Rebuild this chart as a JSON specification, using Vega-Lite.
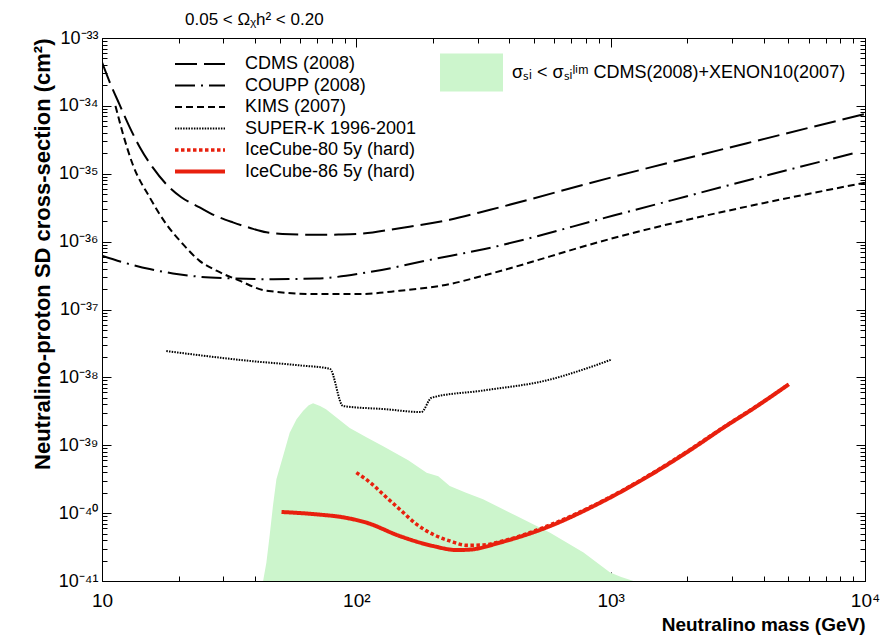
{
  "$schema": "https://vega.github.io/schema/vega-lite/v6.json",
  "width": 763,
  "height": 543,
  "autosize": {"type": "none"},
  "padding": {"left": 102, "top": 38, "right": 29, "bottom": 57},
  "background": "white",
  "config": {
    "font": "Liberation Sans",
    "view": {"stroke": "black", "strokeWidth": 1},
    "axis": {"grid": false, "domainColor": "black", "tickColor": "black", "labelColor": "black", "titleColor": "black", "labelFont": "Liberation Sans", "titleFont": "Liberation Sans"},
    "legend": {"labelFont": "Liberation Sans", "labelColor": "black"}
  },
  "title": {"text": "0.05 < Ωᵪh² < 0.20", "anchor": "start", "frame": "group", "dx": 83, "fontSize": 17, "fontWeight": "normal", "font": "Liberation Sans", "color": "black", "offset": 0},
  "datasets": {
    "allowed": [
      {"m": 43, "s": 1e-41, "band": "σₛᵢ < σₛᵢˡⁱᵐ CDMS(2008)+XENON10(2007)"},
      {"m": 44.3, "s": 1.87e-41, "band": "σₛᵢ < σₛᵢˡⁱᵐ CDMS(2008)+XENON10(2007)"},
      {"m": 45.6, "s": 4.6e-41, "band": "σₛᵢ < σₛᵢˡⁱᵐ CDMS(2008)+XENON10(2007)"},
      {"m": 47, "s": 1.27e-40, "band": "σₛᵢ < σₛᵢˡⁱᵐ CDMS(2008)+XENON10(2007)"},
      {"m": 48.5, "s": 3.15e-40, "band": "σₛᵢ < σₛᵢˡⁱᵐ CDMS(2008)+XENON10(2007)"},
      {"m": 51.5, "s": 6.9e-40, "band": "σₛᵢ < σₛᵢˡⁱᵐ CDMS(2008)+XENON10(2007)"},
      {"m": 54.7, "s": 1.53e-39, "band": "σₛᵢ < σₛᵢˡⁱᵐ CDMS(2008)+XENON10(2007)"},
      {"m": 58.2, "s": 2.41e-39, "band": "σₛᵢ < σₛᵢˡⁱᵐ CDMS(2008)+XENON10(2007)"},
      {"m": 61.7, "s": 3.19e-39, "band": "σₛᵢ < σₛᵢˡⁱᵐ CDMS(2008)+XENON10(2007)"},
      {"m": 65, "s": 3.9e-39, "band": "σₛᵢ < σₛᵢˡⁱᵐ CDMS(2008)+XENON10(2007)"},
      {"m": 67.6, "s": 4.14e-39, "band": "σₛᵢ < σₛᵢˡⁱᵐ CDMS(2008)+XENON10(2007)"},
      {"m": 72, "s": 3.8e-39, "band": "σₛᵢ < σₛᵢˡⁱᵐ CDMS(2008)+XENON10(2007)"},
      {"m": 76, "s": 3.4e-39, "band": "σₛᵢ < σₛᵢˡⁱᵐ CDMS(2008)+XENON10(2007)"},
      {"m": 94.2, "s": 1.8e-39, "band": "σₛᵢ < σₛᵢˡⁱᵐ CDMS(2008)+XENON10(2007)"},
      {"m": 110, "s": 1.3e-39, "band": "σₛᵢ < σₛᵢˡⁱᵐ CDMS(2008)+XENON10(2007)"},
      {"m": 127.5, "s": 9.7e-40, "band": "σₛᵢ < σₛᵢˡⁱᵐ CDMS(2008)+XENON10(2007)"},
      {"m": 160, "s": 6.0e-40, "band": "σₛᵢ < σₛᵢˡⁱᵐ CDMS(2008)+XENON10(2007)"},
      {"m": 189, "s": 3.95e-40, "band": "σₛᵢ < σₛᵢˡⁱᵐ CDMS(2008)+XENON10(2007)"},
      {"m": 210, "s": 3.5e-40, "band": "σₛᵢ < σₛᵢˡⁱᵐ CDMS(2008)+XENON10(2007)"},
      {"m": 233, "s": 2.5e-40, "band": "σₛᵢ < σₛᵢˡⁱᵐ CDMS(2008)+XENON10(2007)"},
      {"m": 270, "s": 2.0e-40, "band": "σₛᵢ < σₛᵢˡⁱᵐ CDMS(2008)+XENON10(2007)"},
      {"m": 315, "s": 1.6e-40, "band": "σₛᵢ < σₛᵢˡⁱᵐ CDMS(2008)+XENON10(2007)"},
      {"m": 427, "s": 9.06e-41, "band": "σₛᵢ < σₛᵢˡⁱᵐ CDMS(2008)+XENON10(2007)"},
      {"m": 578, "s": 5.16e-41, "band": "σₛᵢ < σₛᵢˡⁱᵐ CDMS(2008)+XENON10(2007)"},
      {"m": 782, "s": 2.63e-41, "band": "σₛᵢ < σₛᵢˡⁱᵐ CDMS(2008)+XENON10(2007)"},
      {"m": 995, "s": 1.33e-41, "band": "σₛᵢ < σₛᵢˡⁱᵐ CDMS(2008)+XENON10(2007)"},
      {"m": 1100, "s": 1.15e-41, "band": "σₛᵢ < σₛᵢˡⁱᵐ CDMS(2008)+XENON10(2007)"},
      {"m": 1230, "s": 1e-41, "band": "σₛᵢ < σₛᵢˡⁱᵐ CDMS(2008)+XENON10(2007)"}
    ],
    "curves": [
      {"n": "CDMS (2008)", "m": 10, "s": 4.4e-34},
      {"n": "CDMS (2008)", "m": 10.8, "s": 2.1e-34},
      {"n": "CDMS (2008)", "m": 11.7, "s": 1.06e-34},
      {"n": "CDMS (2008)", "m": 12.8, "s": 5.0e-35},
      {"n": "CDMS (2008)", "m": 14.1, "s": 2.44e-35},
      {"n": "CDMS (2008)", "m": 15.8, "s": 1.25e-35},
      {"n": "CDMS (2008)", "m": 17.9, "s": 7.0e-36},
      {"n": "CDMS (2008)", "m": 20.5, "s": 4.5e-36},
      {"n": "CDMS (2008)", "m": 24.2, "s": 3.2e-36},
      {"n": "CDMS (2008)", "m": 28, "s": 2.4e-36},
      {"n": "CDMS (2008)", "m": 32.7, "s": 1.92e-36},
      {"n": "CDMS (2008)", "m": 38, "s": 1.6e-36},
      {"n": "CDMS (2008)", "m": 44.3, "s": 1.37e-36},
      {"n": "CDMS (2008)", "m": 55, "s": 1.28e-36},
      {"n": "CDMS (2008)", "m": 69.7, "s": 1.26e-36},
      {"n": "CDMS (2008)", "m": 85, "s": 1.27e-36},
      {"n": "CDMS (2008)", "m": 103, "s": 1.3e-36},
      {"n": "CDMS (2008)", "m": 148, "s": 1.58e-36},
      {"n": "CDMS (2008)", "m": 233, "s": 2.1e-36},
      {"n": "CDMS (2008)", "m": 336, "s": 2.95e-36},
      {"n": "CDMS (2008)", "m": 1026, "s": 9.0e-36},
      {"n": "CDMS (2008)", "m": 3436, "s": 2.82e-35},
      {"n": "CDMS (2008)", "m": 10000, "s": 7.6e-35},
      {"n": "COUPP (2008)", "m": 10, "s": 6.2e-37},
      {"n": "COUPP (2008)", "m": 12, "s": 5.0e-37},
      {"n": "COUPP (2008)", "m": 15.4, "s": 3.94e-37},
      {"n": "COUPP (2008)", "m": 19, "s": 3.4e-37},
      {"n": "COUPP (2008)", "m": 24.2, "s": 3.04e-37},
      {"n": "COUPP (2008)", "m": 32, "s": 2.88e-37},
      {"n": "COUPP (2008)", "m": 44.3, "s": 2.8e-37},
      {"n": "COUPP (2008)", "m": 69.7, "s": 2.86e-37},
      {"n": "COUPP (2008)", "m": 109.6, "s": 3.5e-37},
      {"n": "COUPP (2008)", "m": 200, "s": 5.5e-37},
      {"n": "COUPP (2008)", "m": 320, "s": 7.8e-37},
      {"n": "COUPP (2008)", "m": 1026, "s": 2.42e-36},
      {"n": "COUPP (2008)", "m": 3436, "s": 7.96e-36},
      {"n": "COUPP (2008)", "m": 9000, "s": 2.0e-35},
      {"n": "KIMS (2007)", "m": 11.3, "s": 1.0e-34},
      {"n": "KIMS (2007)", "m": 12.1, "s": 3.83e-35},
      {"n": "KIMS (2007)", "m": 13.2, "s": 1.38e-35},
      {"n": "KIMS (2007)", "m": 15.4, "s": 4.48e-36},
      {"n": "KIMS (2007)", "m": 17.9, "s": 1.81e-36},
      {"n": "KIMS (2007)", "m": 20.8, "s": 9.2e-37},
      {"n": "KIMS (2007)", "m": 24.2, "s": 5.2e-37},
      {"n": "KIMS (2007)", "m": 28.2, "s": 3.73e-37},
      {"n": "KIMS (2007)", "m": 34.7, "s": 2.66e-37},
      {"n": "KIMS (2007)", "m": 44.3, "s": 1.89e-37},
      {"n": "KIMS (2007)", "m": 69.7, "s": 1.69e-37},
      {"n": "KIMS (2007)", "m": 103, "s": 1.69e-37},
      {"n": "KIMS (2007)", "m": 148, "s": 1.89e-37},
      {"n": "KIMS (2007)", "m": 233, "s": 2.37e-37},
      {"n": "KIMS (2007)", "m": 320, "s": 3.2e-37},
      {"n": "KIMS (2007)", "m": 1000, "s": 1.1e-36},
      {"n": "KIMS (2007)", "m": 10000, "s": 7.4e-36},
      {"n": "SUPER-K 1996-2001", "m": 17.9, "s": 2.44e-38},
      {"n": "SUPER-K 1996-2001", "m": 38, "s": 1.75e-38},
      {"n": "SUPER-K 1996-2001", "m": 60, "s": 1.5e-38},
      {"n": "SUPER-K 1996-2001", "m": 78.6, "s": 1.34e-38},
      {"n": "SUPER-K 1996-2001", "m": 88.7, "s": 3.78e-39},
      {"n": "SUPER-K 1996-2001", "m": 130, "s": 3.4e-39},
      {"n": "SUPER-K 1996-2001", "m": 180, "s": 3.08e-39},
      {"n": "SUPER-K 1996-2001", "m": 197.7, "s": 5.02e-39},
      {"n": "SUPER-K 1996-2001", "m": 315, "s": 6.4e-39},
      {"n": "SUPER-K 1996-2001", "m": 578, "s": 9.3e-39},
      {"n": "SUPER-K 1996-2001", "m": 782, "s": 1.31e-38},
      {"n": "SUPER-K 1996-2001", "m": 1011, "s": 1.84e-38},
      {"n": "IceCube-86 5y (hard)", "m": 50.8, "s": 1.04e-40},
      {"n": "IceCube-86 5y (hard)", "m": 69.7, "s": 9.6e-41},
      {"n": "IceCube-86 5y (hard)", "m": 90, "s": 8.6e-41},
      {"n": "IceCube-86 5y (hard)", "m": 109.6, "s": 7.24e-41},
      {"n": "IceCube-86 5y (hard)", "m": 148, "s": 4.6e-41},
      {"n": "IceCube-86 5y (hard)", "m": 200, "s": 3.28e-41},
      {"n": "IceCube-86 5y (hard)", "m": 248, "s": 2.86e-41},
      {"n": "IceCube-86 5y (hard)", "m": 280, "s": 2.9e-41},
      {"n": "IceCube-86 5y (hard)", "m": 367, "s": 3.68e-41},
      {"n": "IceCube-86 5y (hard)", "m": 578, "s": 6.45e-41},
      {"n": "IceCube-86 5y (hard)", "m": 857, "s": 1.27e-40},
      {"n": "IceCube-86 5y (hard)", "m": 1521, "s": 4.17e-40},
      {"n": "IceCube-86 5y (hard)", "m": 2056, "s": 8.5e-40},
      {"n": "IceCube-86 5y (hard)", "m": 2780, "s": 1.82e-39},
      {"n": "IceCube-86 5y (hard)", "m": 3766, "s": 3.78e-39},
      {"n": "IceCube-86 5y (hard)", "m": 5015, "s": 7.9e-39},
      {"n": "IceCube-80 5y (hard)", "m": 100, "s": 3.95e-40},
      {"n": "IceCube-80 5y (hard)", "m": 115, "s": 2.7e-40},
      {"n": "IceCube-80 5y (hard)", "m": 127.5, "s": 1.89e-40},
      {"n": "IceCube-80 5y (hard)", "m": 148, "s": 1.14e-40},
      {"n": "IceCube-80 5y (hard)", "m": 172.6, "s": 6.84e-41},
      {"n": "IceCube-80 5y (hard)", "m": 200, "s": 4.88e-41},
      {"n": "IceCube-80 5y (hard)", "m": 233, "s": 3.89e-41},
      {"n": "IceCube-80 5y (hard)", "m": 272, "s": 3.36e-41},
      {"n": "IceCube-80 5y (hard)", "m": 316, "s": 3.4e-41},
      {"n": "IceCube-80 5y (hard)", "m": 367, "s": 3.8e-41},
      {"n": "IceCube-80 5y (hard)", "m": 578, "s": 6.7e-41},
      {"n": "IceCube-80 5y (hard)", "m": 857, "s": 1.3e-40},
      {"n": "IceCube-80 5y (hard)", "m": 1521, "s": 4.25e-40},
      {"n": "IceCube-80 5y (hard)", "m": 2056, "s": 8.7e-40},
      {"n": "IceCube-80 5y (hard)", "m": 2780, "s": 1.85e-39},
      {"n": "IceCube-80 5y (hard)", "m": 3766, "s": 3.82e-39},
      {"n": "IceCube-80 5y (hard)", "m": 5015, "s": 7.9e-39}
    ]
  },
  "layer": [
    {
      "data": {"name": "allowed"},
      "mark": {"type": "area", "opacity": 1, "clip": true},
      "encoding": {
        "x": {
          "field": "m", "type": "quantitative",
          "scale": {"type": "log", "domain": [10, 10000], "nice": false},
          "axis": {
            "orient": "bottom",
            "title": "Neutralino mass (GeV)", "titleAnchor": "end", "titleFontSize": 19, "titleFontWeight": "bold", "titlePadding": 1,
            "values": [10,20,30,40,50,60,70,80,90,100,200,300,400,500,600,700,800,900,1000,2000,3000,4000,5000,6000,7000,8000,9000,10000],
            "labelExpr": "datum.value == 10 ? '10' : datum.value == 100 ? '10²' : datum.value == 1000 ? '10³' : datum.value == 10000 ? '10⁴' : ''",
            "labelFontSize": 19, "labelPadding": 19, "labelOverlap": false, "labelBound": false, "labelFlush": false,
            "tickSize": {"condition": {"test": "abs(log(datum.value)/LN10 - round(log(datum.value)/LN10)) < 0.001", "value": -9}, "value": -5}
          }
        },
        "y": {
          "field": "s", "type": "quantitative",
          "scale": {"type": "log", "domain": [1e-41, 1e-33], "nice": false},
          "axis": {
            "orient": "left",
            "title": "Neutralino-proton SD cross-section (cm²)", "titleAnchor": "end", "titleFontSize": 22, "titleFontWeight": "bold", "titlePadding": 4,
            "values": [1e-41,2e-41,3e-41,4e-41,5e-41,6e-41,7e-41,8e-41,9e-41,1e-40,2e-40,3e-40,4e-40,5e-40,6e-40,7e-40,8e-40,9e-40,1e-39,2e-39,3e-39,4e-39,5e-39,6e-39,7e-39,8e-39,9e-39,1e-38,2e-38,3e-38,4e-38,5e-38,6e-38,7e-38,8e-38,9e-38,1e-37,2e-37,3e-37,4e-37,5e-37,6e-37,7e-37,8e-37,9e-37,1e-36,2e-36,3e-36,4e-36,5e-36,6e-36,7e-36,8e-36,9e-36,1e-35,2e-35,3e-35,4e-35,5e-35,6e-35,7e-35,8e-35,9e-35,1e-34,2e-34,3e-34,4e-34,5e-34,6e-34,7e-34,8e-34,9e-34,1e-33],
            "labelExpr": "abs(log(datum.value)/LN10 - round(log(datum.value)/LN10)) < 0.001 ? '10⁻' + ['⁰','¹','²','³','⁴','⁵','⁶','⁷','⁸','⁹'][floor(-round(log(datum.value)/LN10)/10)] + ['⁰','¹','²','³','⁴','⁵','⁶','⁷','⁸','⁹'][(-round(log(datum.value)/LN10))%10] : ''",
            "labelFontSize": 18, "labelPadding": 13, "labelOverlap": false, "labelBound": false, "labelFlush": false,
            "tickSize": {"condition": {"test": "abs(log(datum.value)/LN10 - round(log(datum.value)/LN10)) < 0.001", "value": -9}, "value": -5}
          }
        },
        "y2": {"datum": 1e-41},
        "fill": {
          "field": "band", "type": "nominal",
          "scale": {"range": ["#ccf5cc"]},
          "legend": {"title": null, "orient": "none", "legendX": 338, "legendY": 3, "symbolType": "M-1,-0.6H1V0.6H-1Z", "symbolSize": 3969, "symbolStrokeWidth": 0, "symbolOpacity": 1, "labelFontSize": 18, "labelOffset": 9, "padding": 0, "labelLimit": 500}
        }
      }
    },
    {
      "data": {"name": "curves"},
      "mark": {"type": "line", "interpolate": "monotone", "clip": true},
      "encoding": {
        "x": {
          "field": "m", "type": "quantitative",
          "axis": {
            "orient": "top", "title": null, "labels": false,
            "values": [10,20,30,40,50,60,70,80,90,100,200,300,400,500,600,700,800,900,1000,2000,3000,4000,5000,6000,7000,8000,9000,10000],
            "tickSize": {"condition": {"test": "abs(log(datum.value)/LN10 - round(log(datum.value)/LN10)) < 0.001", "value": -9}, "value": -5}
          }
        },
        "y": {
          "field": "s", "type": "quantitative",
          "axis": {
            "orient": "right", "title": null, "labels": false,
            "values": [1e-41,2e-41,3e-41,4e-41,5e-41,6e-41,7e-41,8e-41,9e-41,1e-40,2e-40,3e-40,4e-40,5e-40,6e-40,7e-40,8e-40,9e-40,1e-39,2e-39,3e-39,4e-39,5e-39,6e-39,7e-39,8e-39,9e-39,1e-38,2e-38,3e-38,4e-38,5e-38,6e-38,7e-38,8e-38,9e-38,1e-37,2e-37,3e-37,4e-37,5e-37,6e-37,7e-37,8e-37,9e-37,1e-36,2e-36,3e-36,4e-36,5e-36,6e-36,7e-36,8e-36,9e-36,1e-35,2e-35,3e-35,4e-35,5e-35,6e-35,7e-35,8e-35,9e-35,1e-34,2e-34,3e-34,4e-34,5e-34,6e-34,7e-34,8e-34,9e-34,1e-33],
            "tickSize": {"condition": {"test": "abs(log(datum.value)/LN10 - round(log(datum.value)/LN10)) < 0.001", "value": -9}, "value": -5}
          }
        },
        "color": {
          "field": "n", "type": "nominal",
          "scale": {"domain": ["CDMS (2008)", "COUPP (2008)", "KIMS (2007)", "SUPER-K 1996-2001", "IceCube-80 5y (hard)", "IceCube-86 5y (hard)"], "range": ["#000000", "#000000", "#000000", "#000000", "#e8200e", "#e8200e"]},
          "legend": {"title": null, "orient": "none", "legendX": 89, "legendY": 17, "symbolType": "M-5,0H5", "symbolSize": 100, "labelFontSize": 18, "labelOffset": 36, "rowPadding": 3.5, "padding": 0, "labelLimit": 400}
        },
        "strokeDash": {
          "field": "n", "type": "nominal",
          "scale": {"domain": ["CDMS (2008)", "COUPP (2008)", "KIMS (2007)", "SUPER-K 1996-2001", "IceCube-80 5y (hard)", "IceCube-86 5y (hard)"], "range": [[22, 7], [20, 6, 2, 6], [7, 4], [1.5, 1.2], [3.5, 2.5], [1, 0]]}
        },
        "strokeWidth": {
          "field": "n", "type": "ordinal",
          "scale": {"type": "ordinal", "domain": ["CDMS (2008)", "COUPP (2008)", "KIMS (2007)", "SUPER-K 1996-2001", "IceCube-80 5y (hard)", "IceCube-86 5y (hard)"], "range": [2, 2, 2, 2, 3.5, 4]},
          "legend": null
        }
      }
    }
  ],
  "resolve": {"axis": {"x": "independent", "y": "independent"}}
}
